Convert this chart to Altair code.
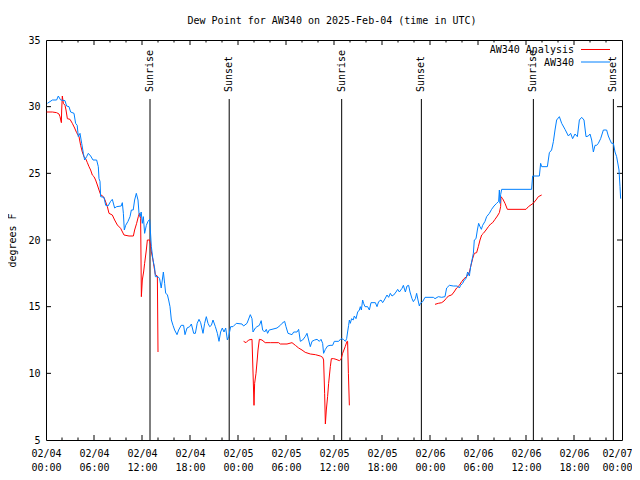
import altair as alt
import pandas as pd

TITLE = "Dew Point for AW340 on 2025-Feb-04 (time in UTC)"
Y_TITLE = "degrees F"
series_names = ["AW340 Analysis", "AW340"]
series_colors = ["#ff0000", "#0080ff"]
FONT = "DejaVu Sans Mono"

# hours since 2025-02-04 00:00 UTC
blue_hours = [0.17, 0.8, 1.33, 1.54, 1.83, 2.375, 2.58, 2.875, 3.08, 3.5, 3.7, 3.9, 4.04, 4.25, 4.46, 4.67,
              4.83, 5.08, 5.29, 5.58, 5.875, 6.33, 6.54, 6.625, 6.75, 6.83, 7.25, 7.46, 7.75, 8.08, 8.29,
              8.58, 8.83, 9.4, 9.54, 9.67, 9.79, 9.96, 10.25, 10.5, 10.67, 10.9, 11.08, 11.29, 11.5, 11.625,
              11.75, 11.9, 12.04, 12.17, 12.33, 12.54, 12.75, 12.96, 13.17, 13.375, 13.58, 13.67, 14.0, 14.2,
              14.4, 14.54, 14.67, 14.83, 14.96, 15.17, 15.33, 15.5, 15.67, 15.875, 16.08, 16.375, 16.58, 16.9,
              17.2, 17.375, 17.625, 17.96, 18.17, 18.46, 18.67, 18.9, 19.125, 19.33, 19.625, 19.83, 20.04,
              20.25, 20.46, 20.67, 20.875, 21.17, 21.42, 21.625, 21.83, 22.04, 22.25, 22.46, 22.67, 22.83,
              23.08, 23.375, 23.79, 24.5, 24.7, 25.125, 25.54, 25.75, 25.875, 26.17, 26.375, 26.67, 26.9,
              27.08, 27.33, 27.54, 27.7, 27.9, 28.25, 28.875, 29.29, 29.5, 29.83, 30.0, 30.25, 30.75, 30.96,
              31.375, 31.58, 31.79, 32.08, 32.4, 32.625, 32.83, 33.04, 33.25, 33.58, 33.875, 34.17, 34.375,
              34.58, 34.7, 34.92, 35.2, 35.5, 35.83, 36.04, 36.58, 36.875, 37.17, 37.42, 37.58, 37.7, 37.83,
              37.92, 38.04, 38.2, 38.4, 38.54, 38.75, 38.96, 39.17, 39.29, 39.42, 39.58, 39.7, 39.875, 40.2,
              40.42, 40.625, 41.17, 41.375, 41.58, 41.875, 42.08, 42.29, 42.625, 42.83, 43.04, 43.25, 43.46,
              43.75, 43.96, 44.17, 44.5, 44.67, 44.92, 45.125, 45.33, 45.5, 45.75, 45.92, 46.17, 46.33, 46.5,
              46.67, 46.79, 47.08, 47.375, 48.42, 48.625, 49.04, 49.46, 49.875, 50.08, 50.42, 50.92, 51.42,
              51.67, 51.83, 52.08, 52.29, 52.5, 52.7, 52.92, 53.08, 53.25, 53.42, 53.54, 53.75, 53.92, 54.08,
              54.25, 54.42, 54.58, 54.875, 55.08, 55.42, 55.7, 56.0, 56.33, 56.58, 56.67, 56.75, 56.83, 56.96,
              60.7, 60.83, 61.67, 61.83, 61.96, 62.67, 62.92, 63.2, 63.42, 63.625, 63.83, 64.17, 64.46,
              64.875, 65.3, 65.58, 65.83, 66.125, 66.42, 66.67, 66.96, 67.25, 67.5, 67.79, 68.0, 68.21, 68.42,
              68.625, 68.83, 69.04, 69.33, 69.67, 70.08, 70.29, 70.5, 70.7, 70.92, 71.125, 71.33, 71.625,
              71.75, 71.83]
blue_vals = [30.25, 30.5, 30.5, 30.8, 30.5, 30.45, 30.05, 30.0, 29.6, 29.5, 28.75, 28.6, 27.75, 28.0, 27.25, 26.5,
             26.0, 26.25, 26.5, 26.3, 26.0, 26.0, 25.5, 24.6, 24.4, 23.25, 23.2, 22.6, 22.55, 22.9, 23.05,
             22.4, 22.5, 22.55, 22.8, 22.0, 20.75, 21.1, 21.4, 21.75, 22.25, 22.25, 23.0, 23.5, 23.0, 22.0,
             21.75, 22.1, 21.25, 21.75, 20.5, 21.1, 21.4, 21.55, 19.5, 18.5, 17.9, 17.25, 17.25, 17.1,
             16.4, 17.0, 17.6, 16.75, 16.0, 15.9, 15.5, 15.0, 14.0, 13.6, 13.25, 12.9, 13.25, 13.6,
             13.6, 12.9, 13.4, 13.5, 13.7, 13.0, 13.0, 13.75, 14.05, 13.8, 13.0, 13.75, 14.25,
             13.75, 13.5, 13.6, 14.0, 13.5, 13.0, 12.4, 13.1, 13.4, 13.1, 13.4, 12.5, 12.75,
             13.5, 13.5, 13.75, 13.7, 13.55, 13.75, 14.4, 14.1, 13.1, 13.4, 13.5, 13.6, 13.95,
             13.25, 13.1, 13.3, 13.0, 13.25, 13.3, 13.4, 13.6, 13.75, 13.9, 13.5, 13.0, 12.9, 13.1,
             13.1, 13.3, 12.4, 12.5, 12.75, 13.0, 12.5, 12.0, 12.4, 12.5, 12.55, 12.4, 12.55,
             12.25, 11.5, 11.8, 12.05, 12.1, 12.1, 12.4, 12.4, 12.6, 12.55, 12.4, 12.6, 13.1, 13.6,
             14.0, 13.75, 14.1, 14.0, 14.3, 14.1, 14.6, 14.75, 15.0, 14.75, 15.5, 15.25, 15.0, 15.0,
             14.75, 15.3, 15.3, 15.0, 15.375, 15.5, 15.3, 15.5, 15.875, 15.7, 16.0, 15.8, 15.875,
             16.1, 16.3, 16.1, 16.375, 16.6, 16.1, 16.55, 16.6, 16.1, 15.6, 15.375, 15.6, 16.0, 15.5,
             15.05, 15.25, 15.375, 15.7, 15.7, 15.6, 15.75, 15.7, 15.75, 16.4, 16.6, 16.55, 16.55,
             16.4, 16.6, 16.75, 17.0, 17.1, 17.6, 17.3, 18.0, 18.5, 19.0, 20.0, 20.1, 20.75, 21.25,
             21.0, 20.8, 21.1, 21.4, 21.75, 22.0, 22.3, 22.55, 22.75, 22.9, 23.75, 22.75, 23.4, 23.8,
             23.8, 24.8, 24.8, 25.75, 25.5, 25.5, 26.55, 26.75, 27.375, 28.25, 29.0, 29.25, 28.75,
             28.3, 27.8, 28.0, 27.6, 27.95, 27.75, 29.0, 29.2, 29.0, 27.75, 27.8, 27.95, 27.5, 26.6,
             27.1, 27.1, 27.25, 27.6, 28.25, 28.25, 27.8, 27.5, 27.25, 27.25, 26.6, 26.25, 25.25,
             24.0, 23.1]

# None marks a gap in the analysis series
red_hours = [0.08, 0.8, 1.33, 1.625, 1.75, 1.92, 1.96, 2.04, 2.17, 2.375, 2.5, 2.67, 3.0, 3.29, 3.58, 3.83,
             4.125, 4.33, 4.54, 4.75, 4.96, 5.17, 5.375, 5.58, 5.79, 6.0, 6.2, 6.42, 6.625, 6.83, 7.17,
             7.375, 7.67, 7.875, 8.29, 8.58, 8.92, 9.33, 9.75, 10.375, 10.92, 11.08, 11.33, 11.54, 11.67,
             11.83, 11.92, 12.04, 12.2, 12.33, 12.54, 12.67, 12.96, 13.08, 13.17, 13.375, 13.5, 13.67,
             13.92, 14.0,
             None,
             24.7, 25.0, 25.33, 25.75, 25.875, 26.0, 26.08, 26.25, 26.4, 26.5, 26.67, 27.0, 27.4, 28.04,
             29.08, 29.29, 30.125, 30.75, 31.17, 31.58, 32.0, 32.4, 33.04, 33.67, 34.29, 34.58, 34.7,
             34.83, 34.92, 35.04, 35.2, 35.33, 35.54, 35.67, 35.96, 36.25, 36.67, 36.875, 37.08, 37.4,
             37.625, 37.7, 37.8, 37.92,
             None,
             48.625, 49.04, 49.46, 49.75, 50.0, 50.3, 50.7, 51.0, 51.33, 51.67, 51.96, 52.25, 52.58,
             52.92, 53.125, 53.33, 53.54, 53.83, 54.04, 54.25, 54.46, 54.67, 55.0, 55.3, 55.58, 55.83,
             56.125, 56.42, 56.67, 56.83, 56.875, 57.08, 57.375, 57.67, 60.0, 60.3, 60.9, 61.25, 61.54,
             61.96]
red_vals = [29.6, 29.6, 29.55, 29.45, 29.25, 28.8, 29.75, 30.8, 30.25, 30.1, 29.75, 29.1, 29.05, 28.75, 28.4, 28.05,
            27.75, 27.1, 26.6, 26.25, 26.1, 25.8, 25.5, 25.25, 24.875, 24.75, 24.5, 24.125, 23.75, 23.4, 23.25,
            23.0, 22.5, 22.0, 21.875, 21.5, 21.125, 20.875, 20.375, 20.3, 20.3, 20.75, 21.25, 21.75, 22.0,
            21.6, 15.75, 17.0, 17.6, 18.25, 19.25, 20.0, 20.0, 19.6, 19.1, 18.5, 18.0, 17.4,
            17.3, 11.6,
            None,
            12.4, 12.3, 12.5, 12.55, 10.1, 7.6, 9.25, 10.0, 11.0, 11.75, 12.55, 12.5, 12.3, 12.3,
            12.3, 12.2, 12.2, 12.3, 12.1, 11.9, 11.75, 11.575, 11.45, 11.4, 11.3, 11.2, 11.0,
            8.5, 6.2, 7.25, 8.25, 9.25, 10.5, 11.1, 11.1, 11.05, 10.95, 11.05, 11.5, 12.0,
            12.4, 12.4, 10.0, 7.6,
            None,
            15.175, 15.25, 15.3, 15.425, 15.6, 15.8, 15.875, 16.1, 16.4, 16.6, 16.875, 17.1, 17.25,
            17.6, 18.1, 18.6, 19.0, 19.05, 19.5, 20.0, 20.375, 20.5, 20.75, 21.0, 21.2, 21.3,
            21.55, 21.8, 22.05, 22.5, 23.25, 23.1, 22.75, 22.3, 22.3, 22.5, 22.75, 23.0, 23.25,
            23.375]

sun_hours = [13.0, 22.9, 36.96, 46.92, 60.92, 70.92]
sun_labels = ["Sunrise", "Sunset", "Sunrise", "Sunset", "Sunrise", "Sunset"]

x_major_hours = [0, 6, 12, 18, 24, 30, 36, 42, 48, 54, 60, 66, 72]
x_minor_hours = [h for h in range(0, 73, 2) if h % 6 != 0]
y_ticks = [5, 10, 15, 20, 25, 30, 35]

BASE = pd.Timestamp("2025-02-04 00:00:00")


def ts(h):
    return (BASE + pd.Timedelta(hours=h)).strftime("%Y-%m-%dT%H:%M:%SZ")


def dt(h):
    t = BASE + pd.Timedelta(hours=h)
    return alt.DateTime(year=t.year, month=t.month, date=t.day, hours=t.hour, minutes=t.minute, utc=True)


blue_df = pd.DataFrame({"t": [ts(h) for h in blue_hours], "v": blue_vals})

rows = []
seg = 0
for h, v in zip(red_hours, red_vals):
    if h is None:
        seg += 1
        continue
    rows.append({"t": ts(h), "v": v, "seg": seg})
red_df = pd.DataFrame(rows)

sun_df = pd.DataFrame({"t": [ts(h) for h in sun_hours], "label": sun_labels})
xmaj_df = pd.DataFrame({"t": [ts(h) for h in x_major_hours[1:-1]]})
xmin_df = pd.DataFrame({"t": [ts(h) for h in x_minor_hours]})
yt_df = pd.DataFrame({"v": y_ticks[1:-1]})
one_df = pd.DataFrame({"k": [0]})

W, H = 576, 400

# last tick label nudged left a few pixels so it stays inside the page
last_ms = int((BASE + pd.Timedelta(hours=x_major_hours[-1])).value // 10**6)

xscale = alt.Scale(type="utc", domain=[dt(0), dt(72)])
xaxis = alt.Axis(values=[dt(h) for h in x_major_hours], grid=False, ticks=False, tickSize=0, domain=False,
                 labelExpr="[utcFormat(datum.value, '%m/%d'), utcFormat(datum.value, '%H:%M')]",
                 labelPadding=8, labelLineHeight=14, labelFlush=False, labelOverlap=False, title=None,
                 labelOffset={"condition": {"test": f"datum.value >= {last_ms - 60000}", "value": -5},
                              "value": 0})
yscale = alt.Scale(domain=[5, 35], nice=False, zero=False)
yaxis = alt.Axis(values=y_ticks, grid=False, ticks=False, tickSize=0, domain=False, labelPadding=6,
                 title=Y_TITLE, titlePadding=10, labelFlush=False)

X = alt.X("t:T", scale=xscale, axis=xaxis)
Y = alt.Y("v:Q", scale=yscale, axis=yaxis)

red_line = alt.Chart(red_df).mark_line(color=series_colors[0], strokeWidth=1).encode(x=X, y=Y, detail="seg:N")
blue_line = alt.Chart(blue_df).mark_line(color=series_colors[1], strokeWidth=1).encode(x=X, y=Y)

sun_rules = alt.Chart(sun_df).mark_rule(color="black", strokeWidth=1).encode(
    x=X, y=alt.value(59), y2=alt.value(H))
sun_text = alt.Chart(sun_df).mark_text(angle=270, align="left", baseline="middle", font=FONT,
                                       fontSize=10, color="black").encode(
    x=X, y=alt.value(52), text="label:N")

xmaj_b = alt.Chart(xmaj_df).mark_rule(color="black").encode(x=X, y=alt.value(H), y2=alt.value(H - 5))
xmaj_t = alt.Chart(xmaj_df).mark_rule(color="black").encode(x=X, y=alt.value(0), y2=alt.value(5))
xmin_b = alt.Chart(xmin_df).mark_rule(color="black").encode(x=X, y=alt.value(H), y2=alt.value(H - 2.5))
xmin_t = alt.Chart(xmin_df).mark_rule(color="black").encode(x=X, y=alt.value(0), y2=alt.value(2.5))
yt_l = alt.Chart(yt_df).mark_rule(color="black").encode(y=Y, x=alt.value(0), x2=alt.value(5))
yt_r = alt.Chart(yt_df).mark_rule(color="black").encode(y=Y, x=alt.value(W), x2=alt.value(W - 5))

title_text = alt.Chart(one_df).mark_text(align="center", baseline="alphabetic", font=FONT, fontSize=10,
                                         color="black", text=TITLE).encode(
    x=alt.value(286), y=alt.value(-16))

# manual gnuplot-style key (label left, sample right)
leg_layers = []
for i, (name, col) in enumerate(zip(series_names, series_colors)):
    yy = 10 + i * 12.5
    leg_layers.append(alt.Chart(one_df).mark_text(align="right", baseline="middle", font=FONT, fontSize=10,
                                                  color="black", text=name).encode(
        x=alt.value(528), y=alt.value(yy)))
    leg_layers.append(alt.Chart(one_df).mark_rule(color=col, strokeWidth=1).encode(
        x=alt.value(535), x2=alt.value(564), y=alt.value(yy - 0.5)))

chart = alt.layer(
    xmin_b, xmin_t, xmaj_b, xmaj_t, yt_l, yt_r,
    sun_rules, sun_text, red_line, blue_line, title_text, *leg_layers
).properties(
    width=W, height=H,
    autosize=alt.AutoSizeParams(type="none"),
    padding={"left": 38, "top": 32, "right": 10, "bottom": 32},
).configure_view(
    stroke="black", strokeWidth=1
).configure_axis(
    labelFont=FONT, labelFontSize=10, labelColor="black", titleFont=FONT, titleFontSize=10,
    titleFontWeight="normal", titleColor="black"
)

chart.save("out.html", embed_options={"renderer": "svg", "actions": False})
